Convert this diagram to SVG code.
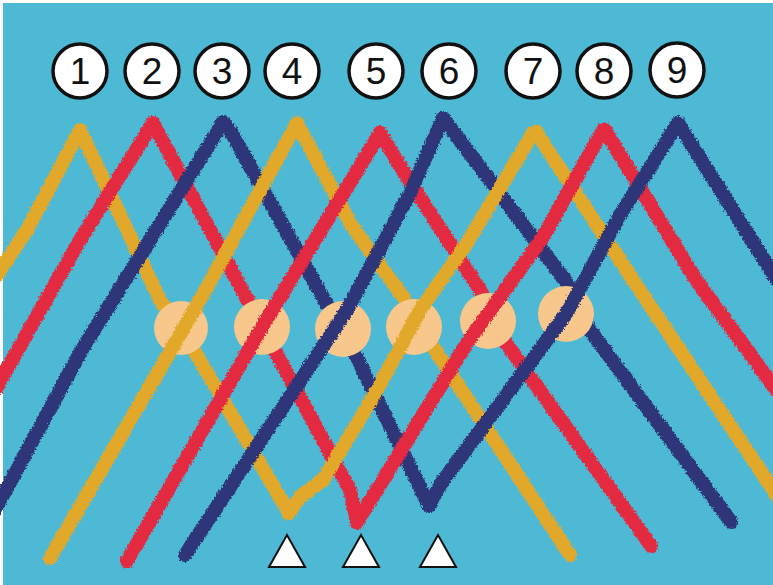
<svg xmlns="http://www.w3.org/2000/svg" width="773" height="585" viewBox="0 0 773 585">
  <defs>
    <filter id="fuzz" x="-5%" y="-5%" width="110%" height="110%">
      <feTurbulence type="fractalNoise" baseFrequency="0.55" numOctaves="2" seed="3" result="n"/>
      <feDisplacementMap in="SourceGraphic" in2="n" scale="5" xChannelSelector="R" yChannelSelector="G"/>
    </filter>
    <style>
      .s { fill: none; stroke-width: 14; stroke-linecap: round; stroke-linejoin: round; }
      .y { stroke: #e2a82b; }
      .r { stroke: #e32a40; }
      .b { stroke: #2d3578; }
      .dot { fill: #f7c78c; }
      .num circle { fill: #ffffff; stroke: #111111; stroke-width: 3.5; }
      .num text { font-family: "Liberation Sans", Arial, sans-serif; font-size: 37px; fill: #111111; text-anchor: middle; }
      .tri { fill: #ffffff; stroke: #111111; stroke-width: 2; stroke-linejoin: miter; }
    </style>
  </defs>

  <rect x="0" y="0" width="773" height="585" fill="#ffffff"/>
  <rect x="3" y="3" width="770" height="582" fill="#4db9d4"/>

  <!-- down-right legs (under) -->
  <g id="under-legs" filter="url(#fuzz)">
    <path class="s y" d="M80 130 L160 300 L185 335 L289 513"/>
    <path class="s r" d="M153 123 L262 327 L350 490 L357 522"/>
    <path class="s b" d="M223 122 L230 130 L330 310 L343 329 L429 506"/>
    <path class="s y" d="M297 123 L350 223 L403 297 L433 347 L570 555"/>
    <path class="s r" d="M380 133 L407 177 L480 290 L506 343 L651 546"/>
    <path class="s b" d="M443 118 L567 283 L590 330 L731 522"/>
    <path class="s y" d="M536 132 L633 280 L780 500"/>
    <path class="s r" d="M605 130 L696 280 L780 395"/>
    <path class="s b" d="M678 123 L780 285"/>
  </g>

  <!-- peach discs -->
  <g id="discs">
    <circle class="dot" cx="181" cy="328" r="27"/>
    <circle class="dot" cx="262" cy="327" r="28"/>
    <circle class="dot" cx="343" cy="329" r="28"/>
    <circle class="dot" cx="414" cy="327" r="28"/>
    <circle class="dot" cx="488" cy="321" r="28"/>
    <circle class="dot" cx="566" cy="314" r="28"/>
  </g>

  <!-- up-right legs (over) -->
  <g id="over-legs" filter="url(#fuzz)">
    <path class="s y" d="M-5 278 L27 230 L80 130"/>
    <path class="s r" d="M-5 390 L80 240 L153 123"/>
    <path class="s b" d="M-5 510 L80 353 L223 122"/>
    <path class="s y" d="M50 558 L200 300 L297 123"/>
    <path class="s r" d="M127 561 L262 327 L380 133"/>
    <path class="s b" d="M185 555 L347 310 L410 193 L443 118"/>
    <path class="s y" d="M289 513 L300 497 L323 480 L377 390 L420 310 L467 243 L533 133 L536 132"/>
    <path class="s r" d="M357 522 L383 480 L467 343 L500 297 L543 237 L603 130 L605 130"/>
    <path class="s b" d="M429 506 L440 485 L566 314 L620 215 L678 123"/>
  </g>

  <!-- number labels -->
  <g id="n1" class="num"><circle cx="80" cy="71" r="27"/><text x="80" y="84">1</text></g>
  <g id="n2" class="num"><circle cx="152" cy="71" r="27"/><text x="152" y="84">2</text></g>
  <g id="n3" class="num"><circle cx="222" cy="71" r="27"/><text x="222" y="84">3</text></g>
  <g id="n4" class="num"><circle cx="292" cy="71" r="27"/><text x="292" y="84">4</text></g>
  <g id="n5" class="num"><circle cx="376" cy="71" r="27"/><text x="376" y="84">5</text></g>
  <g id="n6" class="num"><circle cx="449" cy="71" r="27"/><text x="449" y="84">6</text></g>
  <g id="n7" class="num"><circle cx="533" cy="71" r="27"/><text x="533" y="84">7</text></g>
  <g id="n8" class="num"><circle cx="604" cy="71" r="27"/><text x="604" y="84">8</text></g>
  <g id="n9" class="num"><circle cx="677" cy="70" r="27"/><text x="677" y="83">9</text></g>

  <!-- triangle markers -->
  <g id="markers">
    <polygon class="tri" points="287,535 269,567 305,567"/>
    <polygon class="tri" points="361,535 343,567 379,567"/>
    <polygon class="tri" points="438,535 420,567 456,567"/>
  </g>
</svg>
